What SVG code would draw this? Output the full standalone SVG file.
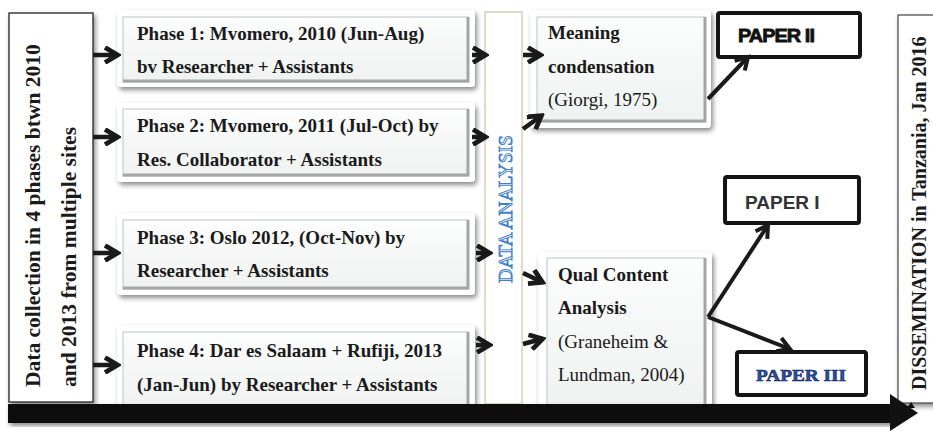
<svg xmlns="http://www.w3.org/2000/svg" width="933" height="431" viewBox="0 0 933 431">
<defs>
<style>
.ser{font-family:"Liberation Serif","Times New Roman",serif;fill:#1a1a1a}
.b{font-weight:bold}
.ph{font-size:19px}
.outer{fill:#fff;filter:url(#sh)}
.inner{fill:url(#gr);stroke:#c9cdcb;stroke-width:1.2}
.bev{fill:none;stroke:#a3a6a5;stroke-width:3}
.paper{fill:#fff;stroke:#141414;stroke-width:4}
.arr{fill:none;stroke:#1a1a1a;stroke-width:4.5;stroke-linejoin:miter}
.arrt{fill:none;stroke:#1a1a1a;stroke-width:4;stroke-linejoin:miter}
</style>
<linearGradient id="gr" x1="0" y1="0" x2="0" y2="1">
<stop offset="0" stop-color="#fcfdfd"/>
<stop offset="1" stop-color="#eef2f0"/>
</linearGradient>
<filter id="sh" x="-10%" y="-10%" width="130%" height="130%">
<feDropShadow dx="2" dy="3" stdDeviation="2.5" flood-color="#000" flood-opacity="0.45"/>
</filter>
<marker id="chev" viewBox="0 0 18 18" refX="14" refY="9" markerWidth="18" markerHeight="18" markerUnits="userSpaceOnUse" orient="auto">
<path d="M2,1.5 L14.5,9 L2,16.5" fill="none" stroke="#1a1a1a" stroke-width="4.8"/>
</marker>
<marker id="chevs" viewBox="0 0 18 18" refX="14" refY="9" markerWidth="18" markerHeight="18" markerUnits="userSpaceOnUse" orient="auto">
<path d="M2,2 L14,9 L2,16" fill="none" stroke="#1a1a1a" stroke-width="4"/>
</marker>
</defs>
<rect width="933" height="431" fill="#fff"/>

<g id="data-collection">
<rect x="9" y="13" width="84" height="389" fill="#fff" stroke="#222" stroke-width="1.3" filter="url(#sh)"/>
<text class="ser b" font-size="21.5" transform="translate(40,387) rotate(-90)">Data collection in 4 phases btwn 2010</text>
<text class="ser b" font-size="21.5" transform="translate(76,387) rotate(-90)">and 2013 from multiple sites</text>
</g>

<g id="phase1">
<rect class="outer" x="117" y="10" width="358" height="77" rx="4"/>
<rect class="inner" x="123" y="17" width="345" height="65"/>
<path class="bev" d="M123,81 H468 V17"/>
<text class="ser b ph" x="137" y="40">Phase 1: Mvomero, 2010 (Jun-Aug)</text>
<text class="ser b ph" x="137" y="73">bv Researcher + Assistants</text>
</g>

<g id="phase2">
<rect class="outer" x="117" y="103" width="358" height="79" rx="4"/>
<rect class="inner" x="123" y="109" width="345" height="67"/>
<path class="bev" d="M123,175 H468 V109"/>
<text class="ser b ph" x="137" y="132">Phase 2: Mvomero, 2011 (Jul-Oct) by</text>
<text class="ser b ph" x="137" y="166">Res. Collaborator + Assistants</text>
</g>

<g id="phase3">
<rect class="outer" x="117" y="213" width="358" height="82" rx="4"/>
<rect class="inner" x="123" y="220" width="345" height="69"/>
<path class="bev" d="M123,288 H468 V220"/>
<text class="ser b ph" x="137" y="244">Phase 3: Oslo 2012, (Oct-Nov) by</text>
<text class="ser b ph" x="137" y="277">Researcher + Assistants</text>
</g>

<g id="phase4">
<rect class="outer" x="117" y="325" width="358" height="80" rx="4"/>
<rect class="inner" x="123" y="332" width="345" height="73"/>
<path class="bev" d="M468,332 V405"/>
<text class="ser b ph" x="137" y="357">Phase 4: Dar es Salaam + Rufiji, 2013</text>
<text class="ser b ph" x="137" y="391">(Jan-Jun) by Researcher + Assistants</text>
</g>

<g id="data-analysis">
<rect x="485" y="12" width="37" height="392" fill="#fff" stroke="#d8d1b9" stroke-width="1.5"/>
<text class="ser" font-size="19.5" text-anchor="middle" style="fill:#eaf2fb;stroke:#3f7fcb;stroke-width:0.9" transform="translate(512,209) rotate(-90)">DATA ANALYSIS</text>
</g>

<g id="meaning-condensation">
<rect class="outer" x="530" y="10" width="181" height="118" rx="4"/>
<rect class="inner" x="537" y="17" width="168" height="105"/>
<path class="bev" d="M537,121 H705 V17"/>
<text class="ser b ph" x="548" y="39">Meaning</text>
<text class="ser b ph" x="548" y="73">condensation</text>
<text class="ser ph" x="548" y="106">(Giorgi, 1975)</text>
</g>

<g id="qual-content-analysis">
<rect class="outer" x="538" y="252" width="174" height="153" rx="4"/>
<rect class="inner" x="547" y="258" width="158" height="147"/>
<path class="bev" d="M705,258 V405"/>
<text class="ser b ph" x="558" y="281">Qual Content</text>
<text class="ser b ph" x="558" y="314">Analysis</text>
<text class="ser ph" x="558" y="348">(Graneheim &amp;</text>
<text class="ser ph" x="558" y="381">Lundman, 2004)</text>
</g>

<g id="paper2">
<rect class="paper" x="718" y="13" width="142" height="44" rx="2"/>
<text x="738" y="42" font-family="Liberation Sans, Arial, sans-serif" font-weight="bold" font-size="19" letter-spacing="-0.9" fill="#111" stroke="#111" stroke-width="0.8" textLength="76" lengthAdjust="spacingAndGlyphs">PAPER II</text>
</g>

<g id="paper1">
<rect class="paper" x="725" y="177" width="134" height="46" rx="2"/>
<text x="745" y="209" font-family="Liberation Sans, Arial, sans-serif" font-weight="bold" font-size="19" fill="#333">PAPER I</text>
</g>

<g id="paper3">
<rect class="paper" x="737" y="352" width="129" height="43" rx="2"/>
<text x="756" y="381" font-family="Liberation Serif, Times New Roman, serif" font-weight="bold" font-size="17" fill="#2a4f9e" stroke="#10245e" stroke-width="0.6" textLength="90" lengthAdjust="spacingAndGlyphs">PAPER III</text>
</g>

<g id="dissemination">
<rect x="898" y="15" width="44" height="388" fill="#fff" stroke="#444" stroke-width="1.2" filter="url(#sh)"/>
<text class="ser b" font-size="20" transform="translate(926,390) rotate(-90)">DISSEMINATION in Tanzania, Jan 2016</text>
</g>

<g id="timeline">
<rect x="8" y="404" width="885" height="19" fill="#111" filter="url(#sh)"/>
<polygon points="890,394 918,413 890,431" fill="#111"/>
<polygon points="907,408 911,402 915,408" fill="#111"/>
</g>

<g id="connectors">
<path class="arr" d="M93,55 H117" marker-end="url(#chev)"/>
<path class="arr" d="M93,137 H117" marker-end="url(#chev)"/>
<path class="arr" d="M93,253 H117" marker-end="url(#chev)"/>
<path class="arr" d="M93,365 H117" marker-end="url(#chev)"/>
<path class="arr" d="M472,55 H485" marker-end="url(#chev)"/>
<path class="arr" d="M472,137 H485" marker-end="url(#chev)"/>
<path class="arr" d="M476,253 H489" marker-end="url(#chev)"/>
<path class="arr" d="M476,345 H489" marker-end="url(#chev)"/>
<path class="arr" d="M523,55 H540" marker-end="url(#chev)"/>
<path class="arr" d="M523,129 L541,116" marker-end="url(#chev)"/>
<path class="arr" d="M523,273 L542,282" marker-end="url(#chev)"/>
<path class="arr" d="M523,344 L542,339" marker-end="url(#chev)"/>
<path class="arrt" d="M708,99 L748,57" marker-end="url(#chevs)"/>
<path class="arrt" d="M708,317 L768,225" marker-end="url(#chevs)"/>
<path class="arrt" d="M708,317 L790,349" marker-end="url(#chevs)"/>
</g>
</svg>
